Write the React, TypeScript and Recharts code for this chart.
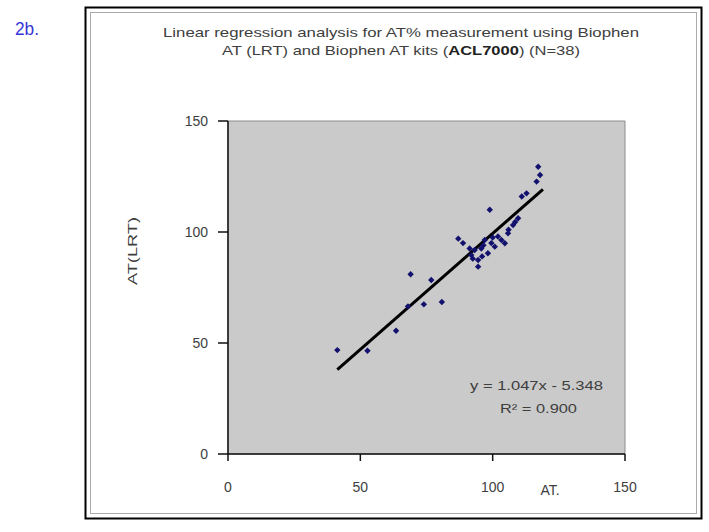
import {
  ScatterChart,
  Scatter,
  XAxis,
  YAxis,
  ReferenceArea,
  ReferenceLine,
} from "recharts";

// AT (x) vs AT(LRT) (y), N=38
const atValues = [
  41.3, 52.7, 63.5, 68, 69, 74, 76.8, 80.8, 87, 88.8, 98.9, 111, 112.8, 116.6,
  117.9, 117.2, 93.2, 95.7, 98.2, 94.5, 94.5, 100.8, 103.3, 105.8, 104.6, 107.7,
  109.6, 91.9, 97, 91.3, 96, 99.5, 102, 106, 108.5, 96.5, 92.5, 100,
];
const atLrtValues = [
  46.8, 46.5, 55.5, 66.5, 81, 67.4, 78.4, 68.5, 97, 95, 110, 116, 117.4, 122.7,
  125.7, 129.4, 91.9, 92.6, 90.4, 87.4, 84.4, 93.4, 96.4, 99.4, 94.9, 103.1,
  106.2, 89.6, 96.4, 92.6, 89, 95, 98, 101, 104.5, 94, 88, 97.5,
];

// trend line ends as drawn (y = 1.047x - 5.348)
const fitX = [41.3, 119];
const fitY = [38.0, 119.2];

const axisTicks = [0, 50, 100, 150];

const points = atValues.map((x, i) => ({ x, y: atLrtValues[i] }));

const font = "'Liberation Sans', Arial, sans-serif";
const textGray = "#3e3e3e";

const Diamond = (props: any) => {
  const { cx, cy } = props;
  if (cx == null || cy == null) return <g />;
  const r = 3.2;
  return (
    <polygon
      points={`${cx},${cy - r} ${cx + r},${cy} ${cx},${cy + r} ${cx - r},${cy}`}
      fill="#12126e"
    />
  );
};

export default function App() {
  return (
    <div
      style={{
        position: "absolute",
        left: 0,
        top: 0,
        width: 709,
        height: 532,
        background: "#fff",
      }}
    >
      <ScatterChart
        width={709}
        height={532}
        margin={{ top: 121, right: 84, bottom: 48, left: 168 }}
        style={{ fontFamily: font }}
      >
        <XAxis
          type="number"
          dataKey="x"
          domain={[0, 150]}
          ticks={axisTicks}
          interval={0}
          allowDataOverflow
          stroke="#111"
          strokeWidth={1.5}
          tickSize={7}
          tickMargin={21}
          fontSize={14}
          tick={{ fill: textGray, fontSize: 14 }}
          height={30}
        />
        <YAxis
          type="number"
          dataKey="y"
          domain={[0, 150]}
          ticks={axisTicks}
          interval={0}
          allowDataOverflow
          stroke="#111"
          strokeWidth={1.5}
          tickSize={10}
          tickMargin={10}
          fontSize={14}
          tick={{ fill: textGray, fontSize: 14 }}
          width={60}
        />
        <ReferenceArea
          x1={0}
          x2={150}
          y1={0}
          y2={150}
          fill="#cacaca"
          fillOpacity={1}
          stroke="#8c8c8c"
          strokeWidth={1}
        />
        <Scatter
          data={points}
          shape={Diamond}
          isAnimationActive={false}
        />
        <ReferenceLine
          segment={[
            { x: fitX[0], y: fitY[0] },
            { x: fitX[1], y: fitY[1] },
          ]}
          stroke="#000"
          strokeWidth={3}
        />
      </ScatterChart>

      <svg
        width={709}
        height={532}
        style={{ position: "absolute", left: 0, top: 0, pointerEvents: "none" }}
      >
        <rect x={85.5} y={7.5} width={616} height={511} fill="none" stroke="#000" strokeWidth={2} />
        <rect x={90.5} y={12.5} width={606} height={501} fill="none" stroke="#aaa" strokeWidth={1} />

        <text x={15} y={35} fontFamily={font} fontSize={18} fill="#3535d6" textLength={24} lengthAdjust="spacingAndGlyphs">
          2b.
        </text>

        <text x={163} y={37} fontFamily={font} fontSize={13} fill={textGray} textLength={476} lengthAdjust="spacingAndGlyphs">
          Linear regression analysis  for AT% measurement using Biophen
        </text>
        <text x={222} y={55} fontFamily={font} fontSize={13} fill={textGray} textLength={358} lengthAdjust="spacingAndGlyphs">
          AT (LRT) and Biophen AT kits (<tspan fontWeight="bold" fill="#222">ACL7000</tspan>) (N=38)
        </text>

        <text
          x={132}
          y={251}
          transform="rotate(-90, 132, 251)"
          textAnchor="middle"
          dominantBaseline="central"
          fontFamily={font}
          fontSize={13}
          fill={textGray}
          textLength={68}
          lengthAdjust="spacingAndGlyphs"
        >
          AT(LRT)
        </text>

        <text x={550} y={495} textAnchor="middle" fontFamily={font} fontSize={14} fill={textGray}>
          AT.
        </text>

        <text x={470} y={390} fontFamily={font} fontSize={13} fill={textGray} textLength={133} lengthAdjust="spacingAndGlyphs">
          y = 1.047x - 5.348
        </text>
        <text x={500} y={413} fontFamily={font} fontSize={13} fill={textGray} textLength={77} lengthAdjust="spacingAndGlyphs">
          R² = 0.900
        </text>
      </svg>
    </div>
  );
}
